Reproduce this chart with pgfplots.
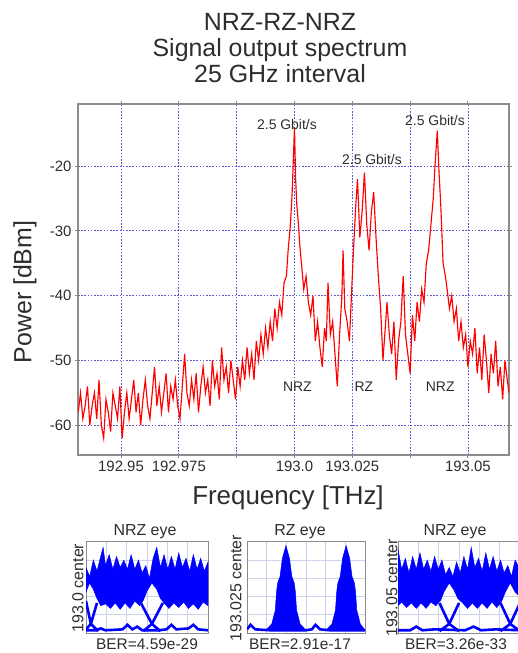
\documentclass[border=0pt]{standalone}
\usepackage{pgfplots}
\pgfplotsset{compat=1.18}
\usepackage{pgfplotstable}
\usepackage{fontspec}
\setmainfont{Liberation Sans}

\definecolor{gridblue}{RGB}{90,90,205}
\definecolor{framegray}{RGB}{140,140,140}
\definecolor{eyegrid}{RGB}{205,210,238}
\definecolor{txt}{RGB}{45,45,45}

% spectrum: x in grid units (0 = 192.95 line, 1 per grid line), power in dBm
\pgfplotstableread{
u dB
-0.74 -58
-0.70 -55
-0.66 -59
-0.62 -57
-0.58 -54
-0.54 -60
-0.50 -57
-0.46 -55
-0.42 -59
-0.38 -53
-0.34 -60
-0.30 -62
-0.26 -56
-0.22 -58
-0.18 -61
-0.14 -55
-0.10 -57
-0.06 -59
-0.02 -54
0.02 -62
0.06 -58
0.10 -55
0.14 -59
0.18 -56
0.22 -53
0.26 -58
0.30 -55
0.34 -60
0.38 -56
0.42 -53
0.46 -57
0.50 -59
0.54 -55
0.58 -51
0.62 -57
0.66 -54
0.70 -58
0.74 -55
0.78 -52
0.82 -58
0.86 -54
0.90 -56
0.94 -53
0.98 -57
1.02 -59
1.06 -54
1.10 -49
1.14 -55
1.18 -57
1.22 -53
1.26 -56
1.30 -52
1.34 -58
1.38 -54
1.42 -51
1.46 -55
1.50 -53
1.54 -57
1.58 -50
1.62 -54
1.66 -52
1.70 -56
1.74 -48
1.78 -53
1.82 -51
1.86 -55
1.90 -50
1.94 -53
1.98 -56
2.02 -51
2.06 -54
2.10 -50
2.14 -53
2.18 -48
2.22 -52
2.26 -49
2.30 -53
2.34 -47
2.38 -50
2.42 -46
2.46 -49
2.50 -45
2.54 -48
2.58 -44
2.62 -47
2.66 -42
2.70 -45
2.74 -41
2.78 -43
2.82 -38
2.86 -37
2.89 -33
2.93 -29
2.96 -24
2.98 -19
3.00 -14
3.02 -22
3.04 -26
3.06 -28
3.09 -32
3.12 -35
3.16 -39
3.20 -37
3.24 -41
3.28 -43
3.32 -40
3.36 -47
3.40 -44
3.44 -48
3.48 -51
3.52 -45
3.55 -47
3.58 -38
3.62 -46
3.66 -44
3.70 -49
3.74 -54
3.78 -46
3.82 -40
3.84 -33
3.87 -42
3.91 -44
3.95 -47
3.98 -41
4.02 -33
4.06 -26
4.09 -22
4.13 -31
4.17 -27
4.21 -21
4.25 -29
4.29 -33
4.33 -27
4.37 -24
4.41 -31
4.45 -37
4.49 -42
4.53 -50
4.57 -45
4.60 -41
4.64 -46
4.68 -49
4.72 -44
4.76 -53
4.80 -47
4.84 -44
4.88 -37
4.92 -46
4.96 -49
5.00 -52
5.04 -43
5.08 -47
5.12 -41
5.16 -44
5.20 -39
5.24 -41
5.28 -35
5.32 -33
5.36 -29
5.40 -25
5.43 -20
5.47 -14.5
5.50 -21
5.53 -26
5.57 -35
5.61 -37
5.64 -39
5.68 -42
5.72 -40
5.76 -44
5.80 -42
5.84 -47
5.88 -44
5.92 -48
5.96 -46
6.00 -51
6.04 -47
6.08 -49
6.12 -45
6.16 -52
6.20 -48
6.24 -53
6.28 -46
6.32 -50
6.36 -55
6.40 -49
6.44 -52
6.48 -47
6.52 -54
6.56 -51
6.60 -56
6.64 -50
6.68 -53
6.71 -55
}\spectrum

\pgfplotsset{
  eye/.style={
    anchor=south west, scale only axis, height=91bp,
    xmin=0, xmax=1, ymin=0, ymax=1,
    xtick={0.167,0.333,0.5,0.667,0.833}, ytick={0.2,0.4,0.6,0.8},
    xticklabels={}, yticklabels={}, major tick length=0pt,
    grid=major, major grid style={eyegrid, line width=0.7bp},
    axis line style={framegray, line width=1bp},
    clip=true,
  },
  band/.style={fill=blue, draw=blue, line width=0.5bp, mark=none},
  trace/.style={blue, line width=2.6bp, mark=none},
}

\begin{document}
\begin{tikzpicture}[every node/.style={text=txt}]
\useasboundingbox (0bp,0bp) rectangle (518bp,653bp);

% titles
\node[anchor=base, font=\fontsize{25}{30}\selectfont] at (280bp,622bp) {NRZ-RZ-NRZ};
\node[anchor=base, font=\fontsize{25}{30}\selectfont] at (280bp,596bp) {Signal output spectrum};
\node[anchor=base, font=\fontsize{25}{30}\selectfont] at (280bp,570bp) {25 GHz interval};
\node[rotate=90, font=\fontsize{25}{30}\selectfont] at (25bp,361bp) {Power [dBm]};
\node[anchor=base, font=\fontsize{26}{30}\selectfont] at (288bp,148bp) {Frequency [THz]};

\begin{axis}[
  at={(78bp,198bp)}, anchor=south west, scale only axis,
  width=431bp, height=351bp,
  xmin=-0.744, xmax=6.71, ymin=-64.6, ymax=-10.4,
  xtick={0,...,6}, xticklabels={192.95,192.975,{},193.0,193.025,{},193.05},
  ytick={-60,-50,-40,-30,-20}, yticklabels={-60,-50,-40,-30,-20},
  grid=major,
  major grid style={gridblue, line width=0.9bp, dash pattern=on 1.6bp off 1.6bp},
  axis line style={framegray, line width=1.6bp},
  tick style={framegray, line width=1bp}, tick align=outside, major tick length=3bp,
  ticklabel style={font=\fontsize{15}{18}\selectfont, text=txt},
  clip=true,
]
\addplot[red, line width=1.15bp, mark=none] table[x=u, y=dB] {\spectrum};
\node[font=\fontsize{14}{16}\selectfont] at (axis cs:2.87,-13.5) {2.5 Gbit/s};
\node[font=\fontsize{14}{16}\selectfont] at (axis cs:4.34,-18.9) {2.5 Gbit/s};
\node[font=\fontsize{14}{16}\selectfont] at (axis cs:5.43,-13.0) {2.5 Gbit/s};
\node[font=\fontsize{14}{16}\selectfont] at (axis cs:3.05,-54) {NRZ};
\node[font=\fontsize{14}{16}\selectfont] at (axis cs:4.20,-54) {RZ};
\node[font=\fontsize{14}{16}\selectfont] at (axis cs:5.52,-54) {NRZ};
\end{axis}

% NRZ eye, 193.0
\begin{axis}[eye, at={(86bp,20bp)}, width=122bp]
\addplot[band] coordinates {(0,0.72) (0.03,0.62) (0.06,0.8) (0.09,0.68) (0.12,0.84) (0.14,0.94) (0.16,0.74) (0.19,0.86) (0.22,0.7) (0.25,0.84) (0.28,0.72) (0.31,0.8) (0.34,0.7) (0.37,0.86) (0.40,0.7) (0.43,0.8) (0.46,0.66) (0.49,0.74) (0.52,0.6) (0.55,0.82) (0.58,0.94) (0.61,0.72) (0.64,0.86) (0.67,0.7) (0.70,0.84) (0.73,0.7) (0.76,0.88) (0.79,0.72) (0.82,0.82) (0.85,0.68) (0.88,0.86) (0.91,0.7) (0.94,0.82) (0.97,0.68) (1,0.78)
 (1,0.3) (0.96,0.34) (0.92,0.26) (0.88,0.32) (0.84,0.27) (0.80,0.34) (0.76,0.28) (0.72,0.33) (0.68,0.27) (0.64,0.33) (0.61,0.38) (0.58,0.48) (0.54,0.55) (0.50,0.46) (0.47,0.36) (0.44,0.3) (0.40,0.35) (0.36,0.27) (0.32,0.33) (0.28,0.26) (0.24,0.33) (0.20,0.27) (0.16,0.32) (0.12,0.3) (0.09,0.38) (0.06,0.48) (0.03,0.55) (0,0.45)} -- cycle;
\addplot[trace] coordinates {(0.45,0.33) (0.54,0.1) (0.61,0.02)};
\addplot[trace] coordinates {(0.63,0.33) (0.54,0.1) (0.47,0.02)};
\addplot[trace] coordinates {(0.0,0.35) (0.04,0.1) (0.10,0.02)};
\addplot[trace] coordinates {(0.09,0.33) (0.04,0.1) (0.0,0.04)};
\addplot[trace] coordinates {(0,0.03) (0.08,0.03) (0.12,0.05) (0.16,0.03) (0.3,0.04) (0.34,0.09) (0.38,0.04) (0.42,0.07) (0.46,0.03) (0.6,0.03) (0.66,0.04) (0.7,0.09) (0.74,0.04) (0.84,0.05) (0.88,0.09) (0.92,0.04) (1,0.03)};
\end{axis}
\node[anchor=base, font=\fontsize{16}{18}\selectfont] at (145bp,117bp) {NRZ eye};
\node[rotate=90, font=\fontsize{16}{18}\selectfont] at (78bp,65bp) {193.0 center};
\node[anchor=base, font=\fontsize{15.5}{18}\selectfont] at (147bp,4bp) {BER=4.59e-29};

% RZ eye, 193.025
\begin{axis}[eye, at={(247bp,20bp)}, width=118bp]
\addplot[band] coordinates {(0.16,0.03) (0.21,0.1) (0.24,0.25) (0.25,0.45) (0.26,0.55) (0.28,0.62) (0.30,0.82) (0.33,0.96) (0.36,0.82) (0.38,0.62) (0.40,0.55) (0.41,0.45) (0.42,0.25) (0.45,0.1) (0.50,0.03)} -- cycle;
\addplot[band] coordinates {(0.67,0.03) (0.72,0.1) (0.75,0.25) (0.76,0.45) (0.77,0.55) (0.79,0.62) (0.81,0.82) (0.84,0.96) (0.87,0.82) (0.89,0.62) (0.91,0.55) (0.92,0.45) (0.93,0.25) (0.96,0.1) (1.0,0.03)} -- cycle;
\addplot[trace] coordinates {(0,0.04) (0.03,0.09) (0.07,0.04) (0.2,0.03) (0.5,0.03) (0.55,0.04) (0.58,0.09) (0.62,0.04) (0.7,0.03) (1,0.03)};
\end{axis}
\node[anchor=base, font=\fontsize{16}{18}\selectfont] at (300bp,117bp) {RZ eye};
\node[rotate=90, font=\fontsize{16}{18}\selectfont] at (236bp,65bp) {193.025 center};
\node[anchor=base, font=\fontsize{15.5}{18}\selectfont] at (300bp,4bp) {BER=2.91e-17};

% NRZ eye, 193.05
\begin{axis}[eye, at={(398bp,20bp)}, width=122bp]
\addplot[band] coordinates {(0,0.92) (0.03,0.7) (0.06,0.82) (0.09,0.66) (0.12,0.84) (0.15,0.7) (0.18,0.88) (0.21,0.7) (0.24,0.8) (0.27,0.68) (0.30,0.84) (0.33,0.7) (0.36,0.8) (0.39,0.64) (0.42,0.72) (0.45,0.62) (0.48,0.78) (0.51,0.66) (0.54,0.84) (0.57,0.7) (0.60,0.94) (0.63,0.72) (0.66,0.82) (0.69,0.68) (0.72,0.88) (0.75,0.7) (0.78,0.84) (0.81,0.68) (0.84,0.8) (0.87,0.66) (0.90,0.74) (0.93,0.62) (0.96,0.8) (1,0.7)
 (1,0.4) (0.96,0.45) (0.92,0.55) (0.88,0.45) (0.85,0.35) (0.81,0.28) (0.77,0.34) (0.73,0.27) (0.69,0.33) (0.65,0.27) (0.61,0.33) (0.57,0.27) (0.53,0.33) (0.49,0.38) (0.46,0.47) (0.42,0.55) (0.38,0.46) (0.35,0.36) (0.31,0.3) (0.27,0.34) (0.23,0.27) (0.19,0.33) (0.15,0.27) (0.11,0.33) (0.07,0.28) (0.03,0.34) (0,0.3)} -- cycle;
\addplot[trace] coordinates {(0.34,0.33) (0.42,0.1) (0.50,0.02)};
\addplot[trace] coordinates {(0.50,0.33) (0.42,0.1) (0.34,0.02)};
\addplot[trace] coordinates {(0.84,0.33) (0.92,0.1) (1.0,0.02)};
\addplot[trace] coordinates {(1.0,0.33) (0.92,0.1) (0.84,0.02)};
\addplot[trace] coordinates {(0,0.03) (0.1,0.03) (0.15,0.07) (0.2,0.03) (0.3,0.04) (0.55,0.03) (0.62,0.07) (0.68,0.03) (0.8,0.04) (1,0.03)};
\end{axis}
\node[anchor=base, font=\fontsize{16}{18}\selectfont] at (455bp,117bp) {NRZ eye};
\node[rotate=90, font=\fontsize{16}{18}\selectfont] at (392bp,65bp) {193.05 center};
\node[anchor=base, font=\fontsize{15.5}{18}\selectfont] at (456bp,4bp) {BER=3.26e-33};
\end{tikzpicture}
\end{document}
